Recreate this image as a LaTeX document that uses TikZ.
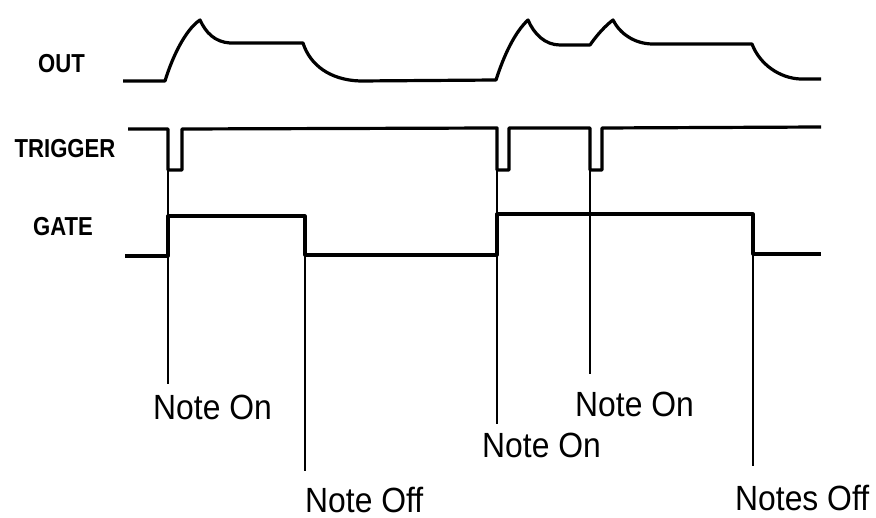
\documentclass[tikz,border=0pt]{standalone}
\usepackage{fontspec}
\newfontfamily\notefont[FakeStretch=0.91]{Liberation Sans}
\newfontfamily\sigfont[FakeStretch=0.85]{Liberation Sans}
\begin{document}
\begin{tikzpicture}[x=1pt,y=-1pt,
  wave/.style={line width=3.2pt,line join=round},
  marker/.style={line width=1.3pt},
  note/.style={anchor=base west,inner sep=0pt,font=\notefont\fontsize{35}{35}\selectfont},
  signame/.style={inner sep=0pt,font=\sigfont\bfseries\fontsize{26}{26}\selectfont}]
\useasboundingbox (0,0) rectangle (876,518);
% signal names
\node[signame] (lout) at (61.5,63.5) {OUT};
\node[signame] (ltrig) at (65,149) {TRIGGER};
\node[signame] (lgate) at (63,227) {GATE};
% OUT waveform
\draw[wave] (123,81) -- (165,81) .. controls (172,58) and (185,30) .. (200,20)
  .. controls (206,33) and (215,42) .. (230,43) -- (303,43)
  .. controls (310,65) and (330,80) .. (360,81) -- (496,80)
  .. controls (504,55) and (515,32) .. (528,20)
  .. controls (534,34) and (545,45) .. (560,45) -- (590,45)
  .. controls (597,35) and (605,26) .. (613,20)
  .. controls (620,34) and (635,44) .. (653,44) -- (752,44)
  .. controls (760,65) and (780,78) .. (800,79) -- (821,79);
% TRIGGER waveform
\draw[wave] (128,129) -- (168,129) -- (168,170) -- (182,170) -- (182,129)
  -- (497,128) -- (497,170) -- (509,170) -- (509,128)
  -- (590,128) -- (590,170) -- (602,170) -- (602,128) -- (821,127);
% GATE waveform
\draw[wave] (125,256) -- (168,256) -- (168,216) -- (305,216) -- (305,255)
  -- (497,255) -- (497,214) -- (753,214) -- (753,254) -- (821,254);
% event markers
\coordinate (m1t) at (168,170); \coordinate (m1b) at (168,384);
\coordinate (m2t) at (305,255); \coordinate (m2b) at (305,471);
\coordinate (m3t) at (497,170); \coordinate (m3b) at (497,424);
\coordinate (m4t) at (590,170); \coordinate (m4b) at (590,374);
\coordinate (m5t) at (753,254); \coordinate (m5b) at (753,466);
\draw[marker] (m1t) -- (m1b);
\draw[marker] (m2t) -- (m2b);
\draw[marker] (m3t) -- (m3b);
\draw[marker] (m4t) -- (m4b);
\draw[marker] (m5t) -- (m5b);
% labels
\node[note] (on1) at (153,420) {Note On};
\node[note] (off1) at (305,512) {Note Off};
\node[note] (on2) at (482,458) {Note On};
\node[note] (on3) at (575,417) {Note On};
\node[note] (off2) at (735,511) {Notes Off};
\end{tikzpicture}
\end{document}
